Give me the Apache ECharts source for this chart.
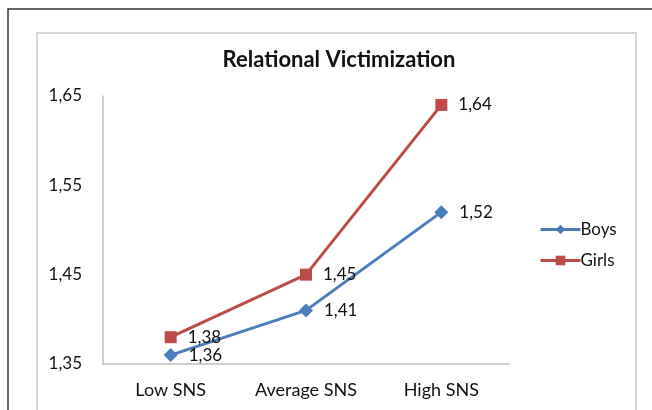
<!DOCTYPE html>
<html>
<head>
<meta charset="utf-8">
<script src="https://cdn.jsdelivr.net/npm/echarts@6/dist/echarts.min.js"></script>
<style>
  html, body { margin: 0; padding: 0; background: #fff; }
</style>
</head>
<body>
<div id="myChart" style="width: 652px; height: 410px;"></div>
<script>
// data
var categories = ["Low SNS", "Average SNS", "High SNS"];
var boys = [1.36, 1.41, 1.52];
var girls = [1.38, 1.45, 1.64];
var yTicks = [1.35, 1.45, 1.55, 1.65];

var font = "Lato, 'Open Sans', sans-serif";
function comma(v) { return Number(v).toFixed(2).replace(".", ","); }

var myChart = echarts.init(document.getElementById("myChart"));
myChart.setOption({
  animation: false,
  title: {
    text: "Relational Victimization",
    left: 334,
    textAlign: "center",
    top: 44,
    textStyle: { fontFamily: font, fontSize: 22, fontWeight: "bold", color: "#111" }
  },
  graphic: [
    // outer frame
    { type: "rect", shape: { x: 8, y: 9, width: 700, height: 450 },
      style: { fill: "none", stroke: "#333", lineWidth: 1.5 }, silent: true },
    // chart area frame
    { type: "rect", shape: { x: 37, y: 33, width: 599, height: 450 },
      style: { fill: "none", stroke: "#c8c8c8", lineWidth: 1.5 }, silent: true }
  ],
  legend: {
    orient: "vertical",
    left: 534,
    top: 216,
    itemGap: 14,
    itemWidth: 40,
    itemHeight: 12,
    lineStyle: { width: 3 },
    textStyle: { fontFamily: font, fontSize: 17, color: "#111", padding: [0, 0, 0, -5] },
    data: ["Boys", "Girls"]
  },
  grid: { left: 103, right: 143, top: 96, bottom: 46, containLabel: false },
  xAxis: {
    type: "category",
    data: categories,
    boundaryGap: true,
    axisLine: { lineStyle: { color: "#bdbdbd", width: 1.5 } },
    axisTick: { show: false },
    axisLabel: { fontFamily: font, fontSize: 18, color: "#111", margin: 17 }
  },
  yAxis: {
    type: "value",
    min: yTicks[0],
    max: yTicks[yTicks.length - 1],
    interval: 0.1,
    axisLine: { show: true, lineStyle: { color: "#bdbdbd", width: 1.5 } },
    axisTick: { show: false },
    splitLine: { show: false },
    axisLabel: { fontFamily: font, fontSize: 17, color: "#111", margin: 21, formatter: comma }
  },
  series: [
    {
      name: "Boys",
      type: "line",
      data: boys,
      symbol: "diamond",
      symbolSize: 14,
      lineStyle: { color: "#4a7ebb", width: 3 },
      itemStyle: { color: "#4a7ebb" },
      label: { show: true, position: "right", distance: 11, fontFamily: font, fontSize: 17, color: "#111", formatter: function (p) { return comma(p.value); } }
    },
    {
      name: "Girls",
      type: "line",
      data: girls,
      symbol: "rect",
      symbolSize: 12,
      lineStyle: { color: "#be4b48", width: 3 },
      itemStyle: { color: "#be4b48" },
      label: { show: true, position: "right", distance: 11, fontFamily: font, fontSize: 17, color: "#111", formatter: function (p) { return comma(p.value); } }
    }
  ]
});
</script>
</body>
</html>
